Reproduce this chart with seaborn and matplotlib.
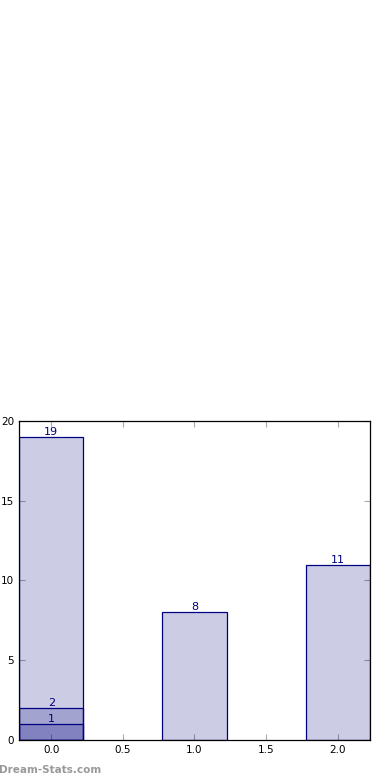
import seaborn as sns
import matplotlib.pyplot as plt

# bar data: main series plus the overlaid smaller bars at x=0
positions = [0, 1, 2]
counts = [19, 8, 11]
overlay_pos = [0, 0]
overlay_counts = [2, 1]

sns.set_style("white")
plt.rcParams['font.family'] = ['DejaVu Sans']

fig = plt.figure(figsize=(3.9, 7.8), dpi=100)
ax = fig.add_axes([0.0487, 0.0513, 0.9, 0.4090])

fill = (0.0, 0.0, 0.5, 0.2)
edge = 'navy'

sns.barplot(x=positions, y=counts, native_scale=True, width=0.45,
            color='navy', ax=ax, errorbar=None)
for p in ax.patches:
    p.set_facecolor(fill)
    p.set_edgecolor(edge)
    p.set_linewidth(0.9)

for xp, c in zip(overlay_pos, overlay_counts):
    ax.bar(xp, c, width=0.45, facecolor=fill, edgecolor=edge, linewidth=0.9)

for xp, c in zip(positions + overlay_pos, counts + overlay_counts):
    ax.text(xp, c, str(c), ha='center', va='bottom', color='navy', fontsize=8)

ax.set_xlim(-0.225, 2.225)
ax.set_ylim(0, 20)
ax.set_xticks([0, 0.5, 1, 1.5, 2])
ax.set_xticklabels(['0.0', '0.5', '1.0', '1.5', '2.0'])
ax.set_yticks([0, 5, 10, 15, 20])
ax.tick_params(direction='in', length=4, color='#aaaaaa', labelsize=7.5,
               top=True, right=True, bottom=True, left=True, labelcolor='black')
for s in ax.spines.values():
    s.set_visible(True)
    s.set_color('black')
    s.set_linewidth(0.9)

fig.text(-0.003, 0.006, 'Dream-Stats.com', color='#999999', fontsize=7.5,
         fontweight='bold', ha='left', va='bottom')

fig.savefig('out.png', dpi=100)
